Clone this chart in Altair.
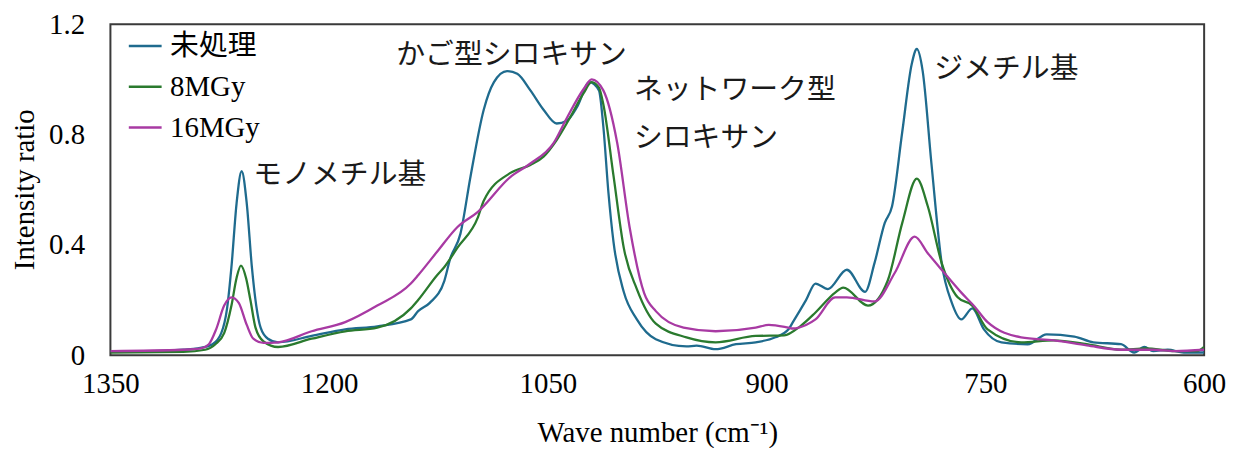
import altair as alt
import pandas as pd

SERIES = ["未処理", "8MGy", "16MGy"]
COLORS = ["#1f6b8e", "#2a7a2e", "#a83aa3"]

# 未処理
wn_a = [1350, 1320, 1300, 1290, 1280, 1274, 1270, 1267, 1263.5, 1260, 1256.5, 1253, 1250, 1247, 1242,
        1235, 1212, 1189, 1167, 1144, 1139, 1131, 1121, 1117, 1110, 1103, 1094, 1087, 1078, 1071,
        1062, 1053, 1044, 1037, 1030, 1021.5, 1015, 1012, 1008.5, 1005, 998, 989, 976, 955, 948,
        935, 921, 907.5, 894, 885, 882, 873, 866.5, 858, 845, 832.5, 826, 819, 814, 807, 800.5,
        797, 793, 787, 780, 773, 766.5, 759, 751, 739, 721, 708, 689, 676, 657, 648, 641, 635,
        625, 614, 600]
val_a = [0.015, 0.015, 0.02, 0.025, 0.04, 0.08, 0.17, 0.32, 0.55, 0.667, 0.55, 0.32, 0.18, 0.10, 0.06,
         0.047, 0.07, 0.094, 0.105, 0.13, 0.16, 0.19, 0.27, 0.35, 0.44, 0.65, 0.89, 0.99, 1.03, 1.02,
         0.96, 0.89, 0.84, 0.85, 0.90, 0.99, 0.96, 0.83, 0.59, 0.41, 0.23, 0.13, 0.058, 0.032, 0.035,
         0.022, 0.04, 0.047, 0.065, 0.094, 0.12, 0.20, 0.26, 0.24, 0.31, 0.23, 0.335, 0.48, 0.54, 0.81, 1.056,
         1.11, 1.03, 0.695, 0.335, 0.19, 0.13, 0.17, 0.094, 0.047, 0.04, 0.076, 0.068, 0.047, 0.04, 0.01, 0.03, 0.015,
         0.02, 0.01, 0.01]

# 8MGy
wn_b = [1350, 1300, 1285, 1278, 1272, 1267, 1263.5, 1260.5, 1257, 1254, 1250.5, 1245, 1235, 1212,
        1189, 1167, 1144, 1139, 1126, 1121, 1112, 1098, 1094, 1076, 1062, 1053, 1044, 1035, 1025.5,
        1020, 1015, 1012, 1005, 998, 989, 976, 955, 935, 907.5, 888, 877, 866.5, 853, 847.5, 830.5,
        817, 807, 797, 789.5, 780, 769, 759, 748.5, 725.5, 703, 680.5, 657, 640, 620, 605, 600]
val_b = [0.01, 0.012, 0.02, 0.04, 0.08, 0.18, 0.28, 0.325, 0.28, 0.20, 0.10, 0.05, 0.03, 0.06,
         0.087, 0.10, 0.17, 0.20, 0.29, 0.32, 0.39, 0.50, 0.56, 0.66, 0.69, 0.72, 0.78, 0.86, 0.95,
         0.99, 0.97, 0.91, 0.65, 0.39, 0.24, 0.115, 0.065, 0.047, 0.07, 0.072, 0.105, 0.155, 0.227, 0.245, 0.18,
         0.27, 0.48, 0.64, 0.54, 0.335, 0.21, 0.18, 0.094, 0.047, 0.054, 0.04, 0.02, 0.025, 0.015, 0.015, 0.03]

# 16MGy
wn_c = [1350, 1300, 1288, 1282.5, 1277.5, 1272, 1267, 1262, 1256.5, 1252, 1245, 1235, 1212, 1189,
        1167, 1144, 1139, 1126, 1112, 1098, 1076, 1062, 1046, 1037, 1025.5, 1020, 1012, 1002.5, 994,
        984, 976, 957, 935, 907.5, 898.5, 885, 882, 873, 866.5, 853, 845, 826, 812, 798.5, 789.5,
        780, 766.5, 757.5, 748.5, 725.5, 703, 680.5, 657, 635, 620, 600]
val_c = [0.015, 0.02, 0.025, 0.04, 0.094, 0.18, 0.21, 0.19, 0.11, 0.06, 0.045, 0.047, 0.087, 0.12,
         0.18, 0.26, 0.29, 0.375, 0.465, 0.52, 0.645, 0.695, 0.77, 0.86, 0.965, 1.0, 0.96, 0.77, 0.465,
         0.225, 0.16, 0.10, 0.087, 0.10, 0.11, 0.10, 0.097, 0.11, 0.13, 0.21, 0.21, 0.195, 0.30, 0.43, 0.37,
         0.31, 0.227, 0.177, 0.12, 0.065, 0.054, 0.036, 0.02, 0.02, 0.015, 0.02]

# annotations
ann_text = ["モノメチル基", "かご型シロキサン", "ネットワーク型", "シロキサン", "ジメチル基"]
ann_wn = [1252, 1154, 991, 991, 785]
ann_val = [0.652, 1.088, 0.962, 0.786, 1.038]

X_TICKS = [1350, 1200, 1050, 900, 750, 600]
Y_TICKS = [0, 0.4, 0.8, 1.2]

rows = []
for name, wns, vals in zip(SERIES, [wn_a, wn_b, wn_c], [val_a, val_b, val_c]):
    for w, v in zip(wns, vals):
        rows.append({"series": name, "wn": w, "val": v})
df = pd.DataFrame(rows)
ann = pd.DataFrame({"text": ann_text, "wn": ann_wn, "val": ann_val})

SERIF = "Liberation Serif, Times New Roman, serif"
MIXED = "Liberation Serif, Noto Sans CJK JP"
JP = "Noto Sans CJK JP"

xscale = alt.Scale(domain=[1350, 600], nice=False, zero=False)
yscale = alt.Scale(domain=[0, 1.2], nice=False, zero=True)

x_axis = alt.Axis(values=X_TICKS, format="d", title="Wave number (cm⁻¹)",
                  labelPadding=14, titleY=78, titleBaseline="middle",
                  labelFont=SERIF, titleFont=SERIF)
y_axis = alt.Axis(values=Y_TICKS, format="~g", title="Intensity ratio",
                  labelPadding=26, titleX=-86, titleY=166,
                  titleAlign="center", titleBaseline="middle", titleAngle=270,
                  labelFont=SERIF, titleFont=SERIF)

lines = alt.Chart(df).mark_line(strokeWidth=2.3, interpolate="monotone", clip=True).encode(
    x=alt.X("wn:Q", scale=xscale, axis=x_axis),
    y=alt.Y("val:Q", scale=yscale, axis=y_axis),
    color=alt.Color("series:N", sort=SERIES,
                    scale=alt.Scale(domain=SERIES, range=COLORS),
                    legend=alt.Legend(title=None, orient="none", legendX=17, legendY=4,
                                      symbolType="stroke", symbolSize=1089, symbolStrokeWidth=2.5,
                                      labelOffset=7, rowPadding=8, padding=0)),
)

texts = alt.Chart(ann).mark_text(align="left", baseline="middle", font=JP, fontSize=29,
                                 color="#1a1a1a").encode(
    x=alt.X("wn:Q", scale=xscale, axis=x_axis),
    y=alt.Y("val:Q", scale=yscale, axis=y_axis),
    text="text:N",
)

chart = alt.layer(lines, texts).properties(
    width=1100, height=333,
    autosize=alt.AutoSizeParams(type="none"),
    padding={"left": 103, "top": 15, "right": 24, "bottom": 92},
).configure(
    font=SERIF
).configure_view(
    stroke="#3a3a3a", strokeWidth=2
).configure_axis(
    grid=False, ticks=False, tickSize=0, domain=False, labelFlush=False,
    labelFont=SERIF, labelFontSize=29, labelColor="#000",
    titleFont=SERIF, titleFontSize=29, titleFontWeight="normal", titleColor="#000",
).configure_legend(
    labelFont=MIXED, labelFontSize=29, labelColor="#000", labelFontWeight="normal",
)

chart.save("out.html", embed_options={"renderer": "svg", "actions": False})
